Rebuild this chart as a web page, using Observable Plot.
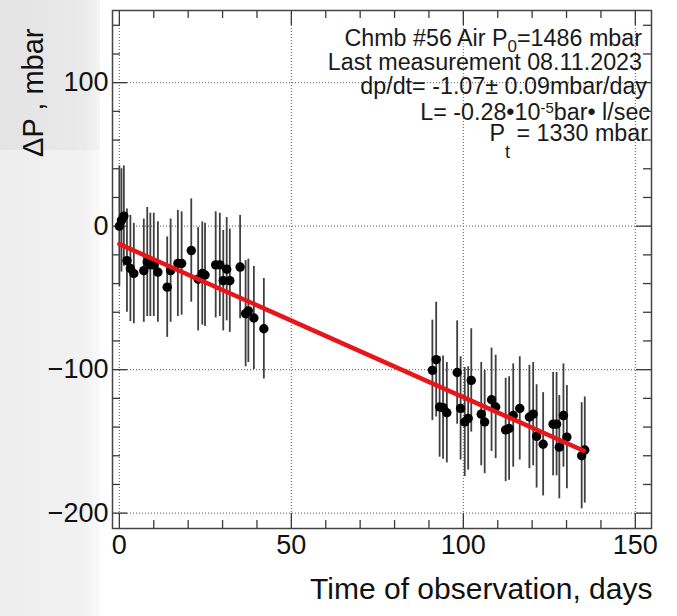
<!DOCTYPE html>
<html><head><meta charset="utf-8">
<script src="https://cdn.jsdelivr.net/npm/d3@7"></script>
<script src="https://cdn.jsdelivr.net/npm/@observablehq/plot@0.6"></script>
<style>
html,body{margin:0;padding:0;background:#fff;}
#wrap{position:relative;width:677px;height:616px;overflow:hidden;font-family:"Liberation Sans",Arial,sans-serif;}
#bg1{position:absolute;left:0;top:0;width:100px;height:150px;background:linear-gradient(to right,#e3e3e3,#eaeaea 85%,#f5f5f5);}
#bg2{position:absolute;left:0;top:150px;width:100px;height:466px;background:linear-gradient(to right,#ededed,#f2f2f2 85%,#fafafa);}
#chart{position:absolute;left:0;top:0;}
</style></head><body>
<div id="wrap"><div id="bg1"></div><div id="bg2"></div><div id="chart"></div></div>
<script>
// measured points: day, pressure change (mbar), error (mbar)
const days = [0.0, 0.6, 1.3, 2.2, 3.2, 4.2, 7.1, 8.1, 9.0, 10.0, 11.2, 13.9, 14.9, 17.0, 18.1, 20.9, 22.9, 24.1, 24.9, 28.0, 29.2, 30.2, 31.2, 32.1, 35.1, 36.7, 37.5, 39.1, 42.0,
  91.0, 92.1, 93.1, 94.1, 95.2, 98.2, 99.2, 100.4, 101.4, 102.3, 105.2, 106.2, 108.2, 109.4, 112.3, 113.3, 114.5, 116.4, 119.2, 120.3, 121.3, 123.2, 126.1, 127.1, 127.9, 129.1, 130.1, 134.4, 135.3];
const dp = [0, 4, 7, -24, -29.5, -33, -31, -25, -27, -27, -32, -42.5, -31, -26, -26, -17, -37, -33, -34, -27, -27, -38, -30, -38, -28.5, -61, -59, -64, -71.5,
  -100.5, -93, -126, -126.5, -130, -102, -127, -136.5, -134, -107.5, -131, -136.5, -121, -126, -142, -141, -132, -127, -133, -131, -146.5, -152, -138, -138, -154, -132, -147, -160, -156];
const err = [42, 36, 35, 36, 37, 35, 36, 38, 36, 36, 35, 35, 36, 37, 36, 36, 36, 36, 36, 37, 36, 35, 36, 36, 36, 37, 36, 36, 35,
  35, 40, 35, 36, 35, 36, 36, 38, 36, 36, 36, 36, 36, 36, 36, 36, 36, 36, 36, 36, 36, 36, 36, 36, 36, 36, 36, 37, 37];
// linear fit endpoints
const fitDays = [0, 135];
const fitDp = [-12.5, -156.5];
// axes
const xMajor = [0, 50, 100, 150];
const xMinor = [10, 20, 30, 40, 60, 70, 80, 90, 110, 120, 130, 140];
const yMajor = [-200, -100, 0, 100];
const yMinor = [-180, -160, -140, -120, -80, -60, -40, -20, 20, 40, 60, 80, 120, 140];
const xTitle = "Time of observation, days";
const yTitle = "\u0394P , mbar";
// legend lines: [text, kind] segments
const legend1 = [["Chmb #56 Air P", "n"], ["0", "sub"], ["=1486 mbar", "n"]];
const legend2 = [["Last measurement 08.11.2023", "n"]];
const legend3 = [["dp/dt= -1.07\u00b1 0.09mbar/day", "n"]];
const legend4 = [["L= -0.28\u202210", "n"], ["-5", "sup"], ["bar\u2022 l/sec", "n"]];
const legend5 = [["P", "n"], ["t", "sub2"], [" = 1330 mbar", "n"]];

const W = 677, H = 616, mL = 112, mR = 26, mT = 10, mB = 88;
const fw = W - mL - mR, fh = H - mT - mB;
const pts = days.map((d, i) => ({day: d, dp: dp[i], err: err[i]}));
const fit = fitDays.map((d, i) => ({day: d, dp: fitDp[i]}));
const tc = "#3a3a3a";
const fmtY = d => d < 0 ? "\u2212" + (-d) : String(d);

const plot = Plot.plot({
  width: W, height: H, marginLeft: mL, marginRight: mR, marginTop: mT, marginBottom: mB,
  style: {background: "transparent", fontFamily: "'Liberation Sans', Arial, sans-serif", color: "#111"},
  x: {domain: [-2, 154.7]},
  y: {domain: [-210.7, 150.3]},
  marks: [
    Plot.ruleY(yMajor, {stroke: "#777", strokeDasharray: "1,2", strokeWidth: 1.2}),
    Plot.ruleX(xMajor, {stroke: "#777", strokeDasharray: "1,2", strokeWidth: 1.2}),
    // ticks (inward, all four sides)
    Plot.tickY(yMajor, {insetRight: fw - 15, stroke: tc, strokeWidth: 1.3}),
    Plot.tickY(yMinor, {insetRight: fw - 8, stroke: tc, strokeWidth: 1.3}),
    Plot.tickY(yMajor, {insetLeft: fw - 15, stroke: tc, strokeWidth: 1.3}),
    Plot.tickY(yMinor, {insetLeft: fw - 8, stroke: tc, strokeWidth: 1.3}),
    Plot.tickX(xMajor, {insetTop: fh - 15, stroke: tc, strokeWidth: 1.3}),
    Plot.tickX(xMinor, {insetTop: fh - 8, stroke: tc, strokeWidth: 1.3}),
    Plot.tickX(xMajor, {insetBottom: fh - 15, stroke: tc, strokeWidth: 1.3}),
    Plot.tickX(xMinor, {insetBottom: fh - 8, stroke: tc, strokeWidth: 1.3}),
    // error bars
    Plot.ruleX(pts, {x: "day", y1: d => d.dp - d.err, y2: d => d.dp + d.err, stroke: "#404040", strokeWidth: 1.8}),
    Plot.dot(pts, {x: "day", y: "dp", r: 4.7, fill: "#000", stroke: "none"}),
    Plot.line(fit, {x: "day", y: "dp", stroke: "#e8161b", strokeWidth: 4.5}),
    Plot.frame({stroke: "#444", strokeWidth: 1.5}),
    Plot.axisX({ticks: xMajor, tickSize: 0, tickPadding: 6, fontSize: 27, label: null, tickFormat: d => String(d)}),
    Plot.axisY({ticks: yMajor, tickSize: 0, tickPadding: 4, fontSize: 27, label: null, tickFormat: fmtY}),
    Plot.text([xTitle], {frameAnchor: "bottom-right", textAnchor: "end", lineAnchor: "bottom", dx: 1, dy: 70, fontSize: 30, fill: "#111"}),
    Plot.text([yTitle], {frameAnchor: "top-left", rotate: -90, textAnchor: "end", lineAnchor: "bottom", dx: -70, dy: 18, fontSize: 29, fill: "#111"})
  ]
});
document.getElementById("chart").appendChild(plot);

// legend text block (top right), with sub/superscripts
const svg = d3.select(plot);
const legendSpec = [[legend1, 642, 46], [legend2, 642, 70], [legend3, 647, 94], [legend4, 650, 120], [legend5, 648, 141]];
const shift = {sub: [6, 17], sub2: [17, 18], sup: [-7, 15]};
legendSpec.forEach(([segs, x, y]) => {
  const t = svg.append("text").attr("x", x).attr("y", y).attr("text-anchor", "end")
    .attr("font-family", "'Liberation Sans', Arial, sans-serif").attr("font-size", 23.3).attr("fill", "#1a1a1a");
  let cur = 0;
  segs.forEach(([s, kind]) => {
    const ts = t.append("tspan").text(s);
    if (kind === "n") {
      if (cur !== 0) { ts.attr("dy", -cur); cur = 0; }
    } else {
      const [dyv, fs] = shift[kind];
      ts.attr("dy", dyv - cur).attr("font-size", fs);
      cur = dyv;
    }
  });
});
</script>
</body></html>
